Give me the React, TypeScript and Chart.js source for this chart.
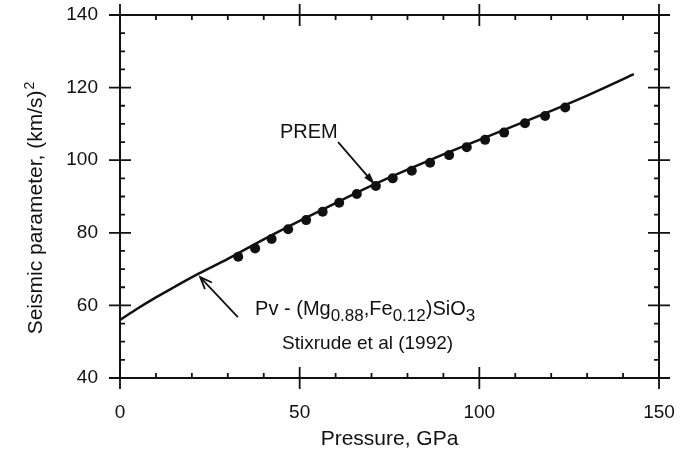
import React, { useEffect, useRef } from 'react';
import { Chart, registerables } from 'chart.js';

Chart.register(...registerables);

// Stixrude et al (1992) Pv curve: pressure (GPa) vs seismic parameter (km/s)^2
const linePressure = [0, 5, 10, 15, 22, 30, 40, 50, 60, 70, 80, 90, 100, 110, 120, 130, 143];
const lineSeismic = [56.0, 59.2, 62.2, 65.0, 68.8, 72.8, 78.2, 83.3, 88.2, 93.0, 97.4, 101.6, 105.6, 109.6, 113.6, 117.8, 123.7];

// PREM points
const premPressure = [32.9, 37.6, 42.2, 46.8, 51.8, 56.4, 61.0, 65.9, 71.2, 75.9, 81.2, 86.3, 91.6, 96.5, 101.6, 106.9, 112.7, 118.3, 123.9];
const premSeismic = [73.4, 75.7, 78.3, 81.0, 83.5, 85.8, 88.3, 90.7, 92.9, 95.0, 97.1, 99.3, 101.4, 103.6, 105.6, 107.6, 110.2, 112.2, 114.5];

// Axis ticks
const xTickValues = [0, 50, 100, 150];
const yTickValues = [40, 60, 80, 100, 120, 140];
const xMinorStep = 10;
const yMinorStep = 5;

const xTitle = 'Pressure, GPa';
const yTitle = 'Seismic parameter, (km/s)';
const yTitleSup = '2';

// Annotation anchors in data coordinates
const premLabel = { text: 'PREM', x: 44.5, y: 106.1 };
const premArrow = { fromX: 60.7, fromY: 105.0, toX: 71.0, toY: 93.2 };
const pvArrow = { fromX: 32.8, fromY: 56.8, toX: 22.3, toY: 67.8 };
const pvLine1 = { x: 37.6, y: 57.4 };
const pvLine1Parts = [
  { t: 'Pv - (Mg' },
  { t: '0.88', sub: true },
  { t: ',Fe' },
  { t: '0.12', sub: true },
  { t: ')SiO' },
  { t: '3', sub: true },
];
const pvLine2 = { text: 'Stixrude et al (1992)', x: 45.1, y: 47.9 };

const FONT = '"Liberation Sans", Arial, Helvetica, sans-serif';
const INK = '#111111';

function drawArrow(ctx: CanvasRenderingContext2D, x1: number, y1: number, x2: number, y2: number, filled: boolean) {
  const ang = Math.atan2(y2 - y1, x2 - x1);
  const len = 13;
  const spread = filled ? 0.28 : 0.38;
  ctx.beginPath();
  ctx.moveTo(x1, y1);
  ctx.lineTo(x2 - Math.cos(ang) * (filled ? 6 : 1), y2 - Math.sin(ang) * (filled ? 6 : 1));
  ctx.stroke();
  const ax = x2 - len * Math.cos(ang - spread);
  const ay = y2 - len * Math.sin(ang - spread);
  const bx = x2 - len * Math.cos(ang + spread);
  const by = y2 - len * Math.sin(ang + spread);
  ctx.beginPath();
  if (filled) {
    ctx.moveTo(ax, ay);
    ctx.lineTo(x2, y2);
    ctx.lineTo(bx, by);
    ctx.closePath();
    ctx.fill();
  } else {
    ctx.moveTo(ax, ay);
    ctx.lineTo(x2, y2);
    ctx.lineTo(bx, by);
    ctx.stroke();
  }
}

const decorPlugin = {
  id: 'decor',
  afterDatasetsDraw(chart: any) {
    const { ctx, chartArea: a, scales } = chart;
    const xs = scales.x;
    const ys = scales.y;
    ctx.save();
    ctx.strokeStyle = INK;
    ctx.fillStyle = INK;
    ctx.lineCap = 'butt';

    // frame
    ctx.lineWidth = 2;
    ctx.strokeRect(a.left, a.top, a.right - a.left, a.bottom - a.top);

    const major = 11;
    const minor = 5;
    ctx.lineWidth = 1.8;
    ctx.beginPath();
    for (let v = xs.min; v <= xs.max + 1e-9; v += xMinorStep) {
      const px = xs.getPixelForValue(v);
      if (xTickValues.includes(v)) {
        ctx.moveTo(px, a.bottom - major);
        ctx.lineTo(px, a.bottom + major);
        ctx.moveTo(px, a.top - major);
        ctx.lineTo(px, a.top + major);
      } else {
        ctx.moveTo(px, a.bottom);
        ctx.lineTo(px, a.bottom - minor);
        ctx.moveTo(px, a.top);
        ctx.lineTo(px, a.top + minor);
      }
    }
    for (let v = ys.min; v <= ys.max + 1e-9; v += yMinorStep) {
      const py = ys.getPixelForValue(v);
      if (yTickValues.includes(v)) {
        ctx.moveTo(a.left - major, py);
        ctx.lineTo(a.left + major, py);
        ctx.moveTo(a.right - major, py);
        ctx.lineTo(a.right + major, py);
      } else {
        ctx.moveTo(a.left, py);
        ctx.lineTo(a.left + minor, py);
        ctx.moveTo(a.right, py);
        ctx.lineTo(a.right - minor, py);
      }
    }
    ctx.stroke();

    // axis titles
    ctx.font = `21px ${FONT}`;
    ctx.textAlign = 'center';
    ctx.textBaseline = 'alphabetic';
    ctx.fillText(xTitle, (a.left + a.right) / 2, 445);

    ctx.save();
    const mainW = ctx.measureText(yTitle).width;
    ctx.font = `14px ${FONT}`;
    const supW = ctx.measureText(yTitleSup).width;
    const total = mainW + 1 + supW;
    const yc = 208;
    ctx.translate(41.5, yc);
    ctx.rotate(-Math.PI / 2);
    ctx.textAlign = 'left';
    ctx.font = `21px ${FONT}`;
    ctx.fillText(yTitle, -total / 2, 0);
    ctx.font = `14px ${FONT}`;
    ctx.fillText(yTitleSup, -total / 2 + mainW + 1, -8);
    ctx.restore();

    // PREM annotation
    ctx.font = `20px ${FONT}`;
    ctx.textAlign = 'left';
    ctx.fillText(premLabel.text, xs.getPixelForValue(premLabel.x), ys.getPixelForValue(premLabel.y));
    ctx.lineWidth = 1.8;
    drawArrow(
      ctx,
      xs.getPixelForValue(premArrow.fromX), ys.getPixelForValue(premArrow.fromY),
      xs.getPixelForValue(premArrow.toX), ys.getPixelForValue(premArrow.toY),
      true,
    );

    // Pv annotation
    drawArrow(
      ctx,
      xs.getPixelForValue(pvArrow.fromX), ys.getPixelForValue(pvArrow.fromY),
      xs.getPixelForValue(pvArrow.toX), ys.getPixelForValue(pvArrow.toY),
      false,
    );
    let cx = xs.getPixelForValue(pvLine1.x);
    const by = ys.getPixelForValue(pvLine1.y);
    for (const part of pvLine1Parts) {
      ctx.font = part.sub ? `17px ${FONT}` : `20px ${FONT}`;
      ctx.fillText(part.t, cx, part.sub ? by + 6 : by);
      cx += ctx.measureText(part.t).width;
    }
    ctx.font = `19px ${FONT}`;
    ctx.fillText(pvLine2.text, xs.getPixelForValue(pvLine2.x), ys.getPixelForValue(pvLine2.y));

    ctx.restore();
  },
};

export default function App() {
  const canvasRef = useRef<HTMLCanvasElement | null>(null);

  useEffect(() => {
    const canvas = canvasRef.current;
    if (!canvas) return;
    const chart = new Chart(canvas, {
      type: 'scatter',
      data: {
        datasets: [
          {
            label: 'Pv',
            data: linePressure.map((p, i) => ({ x: p, y: lineSeismic[i] })),
            showLine: true,
            borderColor: INK,
            borderWidth: 2.5,
            pointRadius: 0,
            cubicInterpolationMode: 'monotone',
            fill: false,
          } as any,
          {
            label: 'PREM',
            data: premPressure.map((p, i) => ({ x: p, y: premSeismic[i] })),
            showLine: false,
            pointRadius: 5,
            pointBackgroundColor: INK,
            pointBorderColor: INK,
            pointBorderWidth: 0,
          },
        ],
      },
      options: {
        responsive: false,
        animation: false,
        devicePixelRatio: 1,
        events: [],
        layout: { padding: { top: 15, right: 27, left: 0, bottom: 0 } },
        plugins: { legend: { display: false }, tooltip: { enabled: false } },
        scales: {
          x: {
            type: 'linear',
            min: 0,
            max: 150,
            afterFit: (s: any) => { s.height = 77; s.paddingLeft = 0; s.paddingRight = 0; },
            afterBuildTicks: (s: any) => { s.ticks = xTickValues.map((v) => ({ value: v })); },
            grid: { display: false, drawTicks: false },
            border: { display: false },
            ticks: { font: { family: FONT, size: 19 }, color: INK, padding: 23, maxRotation: 0 },
          },
          y: {
            type: 'linear',
            min: 40,
            max: 140,
            afterFit: (s: any) => { s.width = 120; s.paddingTop = 0; s.paddingBottom = 0; },
            afterBuildTicks: (s: any) => { s.ticks = yTickValues.map((v) => ({ value: v })); },
            grid: { display: false, drawTicks: false },
            border: { display: false },
            ticks: { font: { family: FONT, size: 19 }, color: INK, padding: 22 },
          },
        },
      },
      plugins: [decorPlugin],
    });
    return () => chart.destroy();
  }, []);

  return (
    <div style={{ position: 'absolute', left: 0, top: 0, width: 686, height: 455, background: '#fff' }}>
      <canvas ref={canvasRef} width={686} height={455} />
    </div>
  );
}
